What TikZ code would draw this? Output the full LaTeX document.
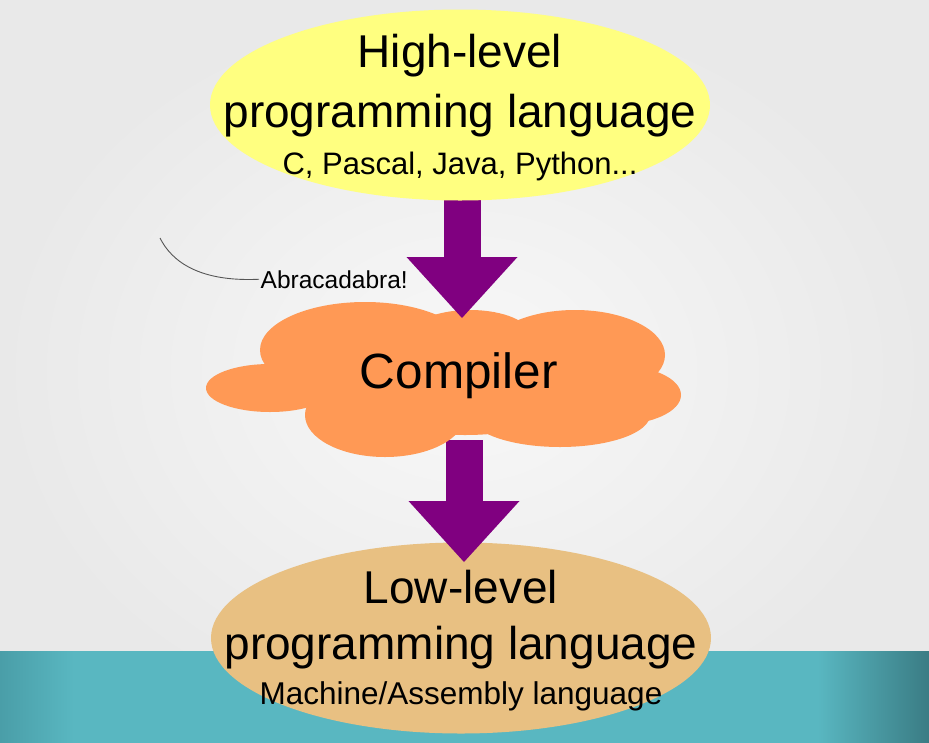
\documentclass[tikz,border=0pt]{standalone}
\usepackage{fontspec}
\setmainfont{Liberation Sans}
\usetikzlibrary{shapes.geometric,arrows.meta}

\definecolor{bgpale}{RGB}{248,248,248}
\definecolor{bgedge}{RGB}{233,233,233}
\definecolor{bandteal}{RGB}{89,183,193}
\definecolor{bandleft}{RGB}{74,158,168}
\definecolor{banddark}{RGB}{58,124,132}
\definecolor{hlyellow}{RGB}{255,255,128}
\definecolor{llsand}{RGB}{232,192,130}
\definecolor{cloudorange}{RGB}{255,153,85}
\definecolor{arrowpurple}{RGB}{128,0,128}
\definecolor{calloutgray}{RGB}{85,85,85}

\pgfdeclarehorizontalshading{bandshade}{100bp}{color(0bp)=(bandleft); color(25bp)=(bandleft);
  color(29bp)=(bandteal); color(69bp)=(bandteal); color(75bp)=(banddark); color(100bp)=(banddark)}

\tikzset{
  langblob/.style={ellipse, minimum width=500pt, minimum height=191pt, inner sep=0pt, outer sep=0pt},
  langtext/.style={align=center, inner sep=0pt, font=\fontsize{46}{58}\selectfont},
  smalltext/.style={},
  puff/.style={cloudorange},
  bigarrow/.style={draw=arrowpurple, line width=37pt,
    -{Triangle[length=61pt,width=111pt,line width=0pt,fill=arrowpurple]}},
}

\begin{document}
\begin{tikzpicture}[x=1pt,y=1pt,yscale=-1]
\useasboundingbox (0,0) rectangle (929,742);
%background
\shade[inner color=bgpale, outer color=bgedge] (0,0) rectangle (929,742);
\shade[shading=bandshade] (0,651) rectangle (929,745);

%Shape: Ellipse (low level)
\node[langblob, fill=llsand] (lowblob) at (461,638) {};
\node[langtext] (low) at ([yshift=3pt]lowblob.center) {Low-level\\[-2pt]programming language\\[-13pt]{\fontsize{31.5}{36}\selectfont Machine/Assembly language}};

\coordinate (cloudbot) at (464,440);
\coordinate (lowtip) at (464,562);
\draw[bigarrow] (cloudbot) -- (lowtip);

%Cloud
\fill[puff] (270,388) ellipse [x radius=64, y radius=24];
\fill[puff] (365,350) ellipse [x radius=105, y radius=48];
\fill[puff] (575,355) ellipse [x radius=90, y radius=45];
\fill[puff] (615,395) ellipse [x radius=66, y radius=30];
\fill[puff] (560,415) ellipse [x radius=90, y radius=32];
\fill[puff] (385,415) ellipse [x radius=80, y radius=42];
\fill[puff] (465,380) ellipse [x radius=130, y radius=55];
\fill[puff] (470,335) ellipse [x radius=60, y radius=25];
% Text Node
\node[anchor=base, font=\fontsize{49.5}{58}\selectfont] (comp) at (459,388) {Compiler};

%Shape: Ellipse (high level)
\coordinate (hightail) at (462,199);
\coordinate (cloudtop) at (462,318);
\draw[bigarrow] (hightail) -- (cloudtop);
\node[langblob, fill=hlyellow] (highblob) at (460,105) {};
\node[langtext] (high) at ([yshift=3pt]highblob.center) {High-level\\[2pt]programming language\\[-11pt]{\fontsize{31}{36}\selectfont C, Pascal, Java, Python...}};

% Text Node
\node[anchor=base west, inner sep=1.5pt, font=\fontsize{24.5}{30}\selectfont] (abra) at (259,288) {Abracadabra!};
\coordinate (abratail) at (160,238);
\draw[calloutgray, line width=0.9pt] (abra.west) .. controls (200,282) and (172,262) .. (abratail);
\end{tikzpicture}
\end{document}
